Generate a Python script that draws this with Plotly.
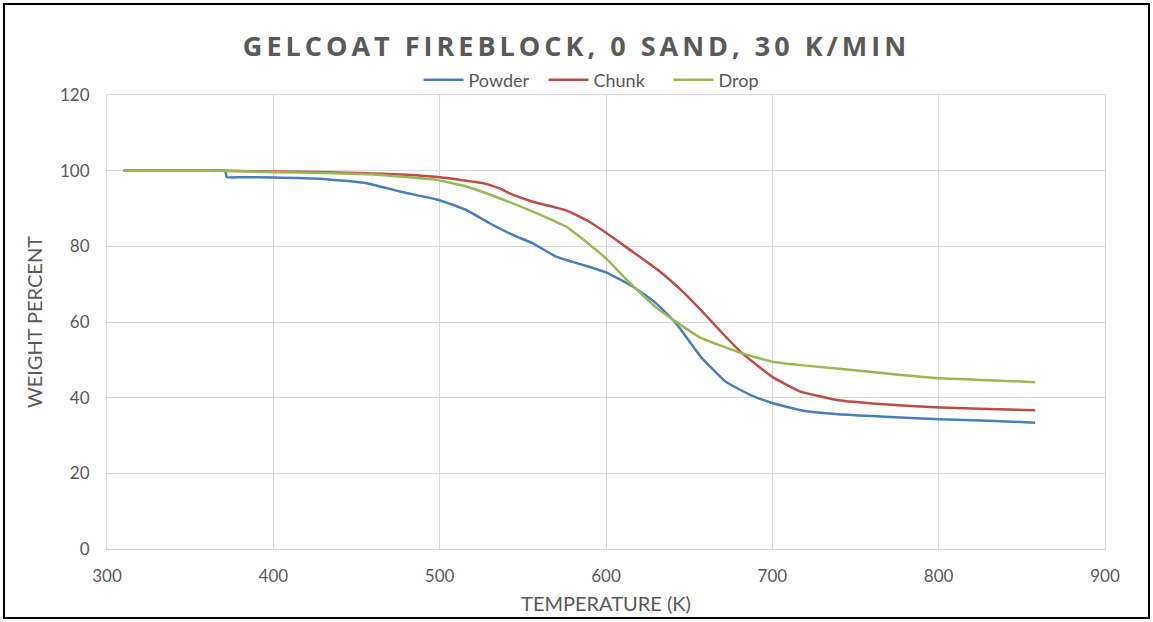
import plotly.graph_objects as go

powder_t = [310, 340, 360, 371, 372, 380, 400, 430, 456, 476, 499, 516, 530, 544, 556, 570, 586, 600, 616, 630, 642, 657, 672, 687, 700, 717, 740, 765, 801, 830, 858]
powder_w = [100, 100, 100, 100, 98.3, 98.25, 98.2, 97.8, 96.7, 94.5, 92.3, 89.6, 86.1, 83, 80.8, 77.3, 75.1, 73.1, 69.4, 65, 59.7, 50.8, 44.2, 40.7, 38.6, 36.7, 35.6, 35, 34.3, 33.9, 33.4]

chunk_t = [310, 340, 380, 416, 450, 480, 499, 526, 536, 542, 556, 576, 590, 600, 614, 632, 645, 657, 672, 682, 700, 717, 740, 765, 801, 830, 858]
chunk_w = [100, 100, 99.9, 99.7, 99.4, 98.9, 98.3, 96.7, 95.3, 94.0, 91.8, 89.5, 86.5, 83.6, 79.2, 73.5, 68.5, 63.2, 56.1, 51.7, 45.5, 41.6, 39.3, 38.3, 37.4, 37, 36.7]

drop_t = [310, 340, 372, 400, 430, 460, 499, 516, 536, 556, 576, 590, 600, 614, 632, 642, 657, 682, 700, 717, 760, 801, 830, 858]
drop_w = [100, 100, 100, 99.6, 99.4, 99, 97.5, 95.8, 92.7, 89.2, 85.2, 80.5, 76.8, 70.5, 63.2, 60.1, 55.8, 51.7, 49.5, 48.6, 46.8, 45.1, 44.6, 44.1]

series = [
    ("Powder", powder_t, powder_w, "#4A7EBB"),
    ("Chunk", chunk_t, chunk_w, "#BE4B48"),
    ("Drop", drop_t, drop_w, "#98B954"),
]

fig = go.Figure()
for name, t, w, c in series:
    fig.add_trace(go.Scatter(x=t, y=w, name=name, mode="lines",
                             line=dict(color=c, width=2.5, shape="spline", smoothing=0.4)))

grey = "#595959"
fig.update_layout(
    width=1153, height=622,
    margin=dict(l=107, r=48, t=95, b=73),
    paper_bgcolor="white", plot_bgcolor="white",
    font=dict(family="Lato", color=grey, size=17),
    title=dict(text="<b>GELCOAT FIREBLOCK, 0 SAND, 30 K/MIN</b>", x=0.5, xanchor="center",
               y=1 - 47 / 622, yanchor="middle", font=dict(size=27, color=grey, family="Open Sans")),
    legend=dict(orientation="h", x=0.5, xanchor="center", y=(549 - 80) / 454, yanchor="middle",
                font=dict(size=18, color=grey, family="Lato"), traceorder="normal",
                bgcolor="rgba(0,0,0,0)",
                itemwidth=40, entrywidth=70, entrywidthmode="pixels"),
    showlegend=True,
    xaxis=dict(range=[300, 900], dtick=100, showgrid=True, gridcolor="#D9D9D9", gridwidth=1,
               zeroline=False, ticks="", tickfont=dict(size=17, color=grey), ticklabelstandoff=12,
               showline=True, linecolor="#D9D9D9", mirror=True,
               title=dict(text="TEMPERATURE (K)", font=dict(size=20, color=grey), standoff=11)),
    yaxis=dict(range=[0, 120], dtick=20, showgrid=True, gridcolor="#D9D9D9", gridwidth=1,
               zeroline=False, ticks="", tickfont=dict(size=17, color=grey), ticklabelstandoff=13,
               showline=True, linecolor="#D9D9D9", mirror=True,
               title=dict(text="WEIGHT PERCENT", font=dict(size=20, color=grey), standoff=12)),
)

# outer black frame
fig.add_shape(type="rect", xref="paper", yref="paper",
              x0=(4 - 107) / 998, x1=(1149 - 107) / 998,
              y0=(549 - 618) / 454, y1=(549 - 4) / 454,
              line=dict(color="black", width=2), fillcolor="rgba(0,0,0,0)", layer="below")

post = """
document.body.style.margin = '0';
var t = document.querySelectorAll('.gtitle');
t.forEach(function(e){ e.style.letterSpacing = '4px'; });
"""
fig.write_html("out.html", post_script=post, config={"displayModeBar": False})
